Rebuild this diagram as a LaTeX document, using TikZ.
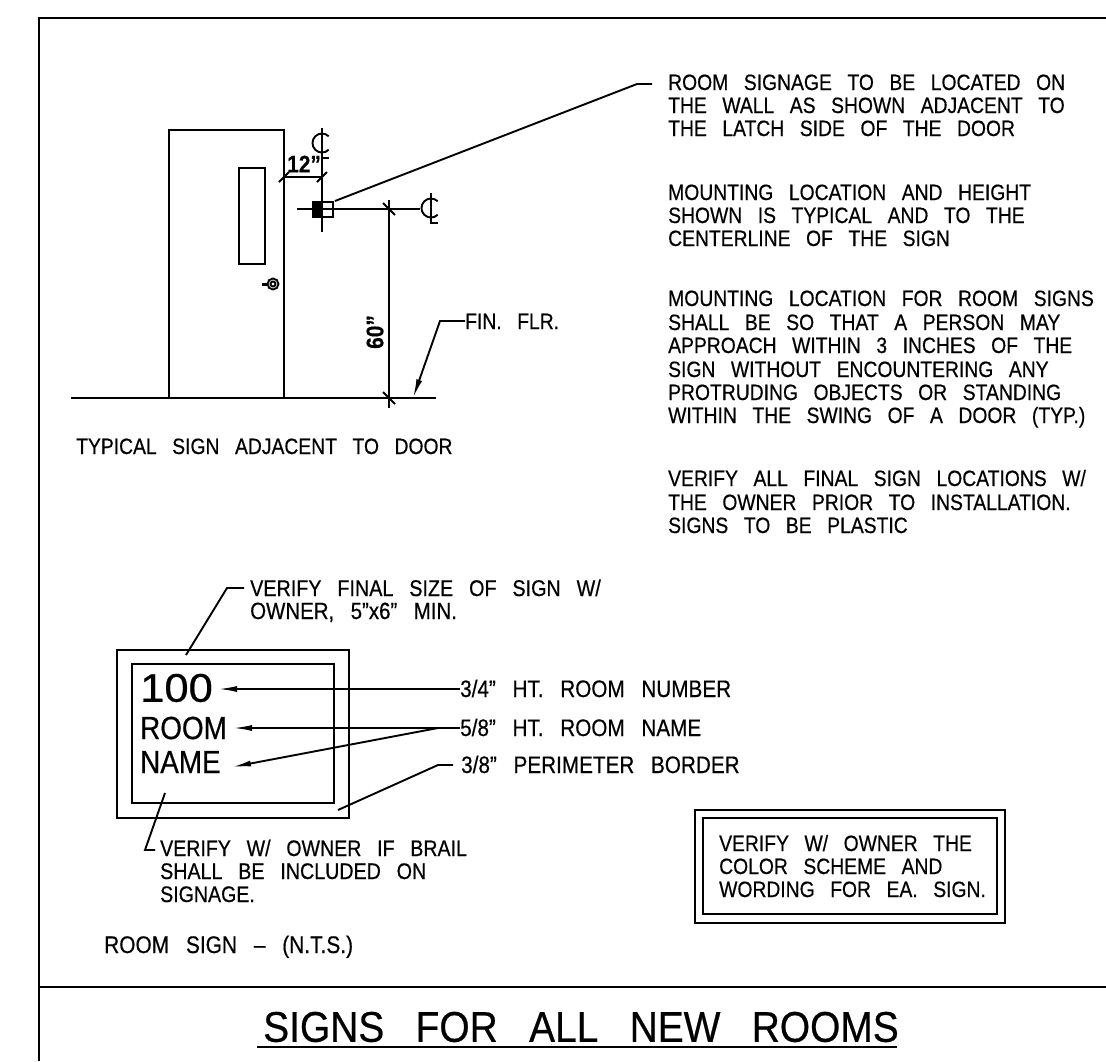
\documentclass[tikz,border=0pt]{standalone}
\usepackage{fontspec}
\setmainfont{Liberation Sans}[WordSpace=2.9,FakeStretch=0.87,FakeBold=0.5]
\usetikzlibrary{arrows.meta}
\tikzset{
	line/.style={line width=1.9pt},
	heavy/.style={line width=2.4pt},
	ptr/.style={line width=1.9pt,-{Latex[length=19pt,width=6pt]}},
	lbl/.style={anchor=west,inner sep=0pt,text height=16pt,text depth=0pt,font=\fontsize{22.2}{24}\selectfont},
	bignum/.style={anchor=west,inner sep=0pt,font=\fontsize{#1}{#1}\selectfont}
}
\begin{document}
\begin{tikzpicture}[x=1pt,y=-1pt]
	\useasboundingbox (0,0) rectangle (1106,1061);
	\draw[heavy] (1106,18) -- (39,18) -- (39,1061);
	\draw[line width=2.8pt] (39,987) -- (1106,987);
	\draw[heavy] (169,398) -- (169,130) -- (284,130) -- (284,398);
	\draw[heavy] (239,168) rectangle (265,264);
	\draw[line] (273,284) circle (2.5);
	\draw[line] (273,284) circle (5.5);
	\draw[line width=3pt] (262,284) -- (268,284);
	\draw[heavy] (71,398) -- (436,398);
	\draw[line] (322,128) -- (322,232);
	\draw[line] (297,209) -- (420,209);
	\draw[line] (284,177) -- (322,177);
	\draw[line] (389,200) -- (389,408);
	\foreach \x/\y in {284/177,322/177}{
		\draw[line] (\x-5,\y+5) -- (\x+5,\y-5);
	}
	\foreach \x/\y in {389/209,389/398}{
		\draw[line] (\x-6,\y-6) -- (\x+6,\y+6);
	}
	\foreach \x/\y in {322/143,431/208}{
		\draw[line] (\x+6.7,\y-6.7) arc[start angle=45,end angle=315,radius=9.5pt];
		\draw[line] (\x,\y-15) -- (\x,\y+15) -- (\x+7,\y+15);
	}
	\fill (313,202) rectangle (323,217);
	\draw[heavy] (313,202) rectangle (333,217);
	\node[bignum=24,font=\fontsize{24}{24}\selectfont\bfseries] (dimwide) at (287,164) {12"};
	\node[font=\fontsize{24}{24}\selectfont\bfseries,rotate=90,inner sep=0pt] (dimhigh) at (375,332) {60"};
	\coordinate (signtip) at (335,201);
	\coordinate (signbend) at (637,84);
	\coordinate (signend) at (652,84);
	\draw[line] (signtip) -- (signbend) -- (signend);
	\foreach \n/\y/\t in {a/82/ROOM SIGNAGE TO BE LOCATED ON,b/105/THE WALL AS SHOWN ADJACENT TO,c/128/THE LATCH SIDE OF THE DOOR,
		d/192/MOUNTING LOCATION AND HEIGHT,e/215/SHOWN IS TYPICAL AND TO THE,f/238/CENTERLINE OF THE SIGN,
		g/298/MOUNTING LOCATION FOR ROOM SIGNS,h/322/SHALL BE SO THAT A PERSON MAY,i/345/APPROACH WITHIN 3 INCHES OF THE,j/369/SIGN WITHOUT ENCOUNTERING ANY,k/392/PROTRUDING OBJECTS OR STANDING,l/415/WITHIN THE SWING OF A DOOR (TYP.),
		m/478/{VERIFY ALL FINAL SIGN LOCATIONS W/},n/502/THE OWNER PRIOR TO INSTALLATION.,o/525/SIGNS TO BE PLASTIC}{
		\node[lbl] (note\n) at (668,\y) {\t};
	}
	\node[lbl] (finflr) at (465,321) {FIN. FLR.};
	\coordinate (flrtip) at (413,398);
	\coordinate (flrbend) at (440,321);
	\draw[ptr] (finflr.west) -- (flrbend) -- (flrtip);
	\node[lbl] (typsign) at (76,446) {TYPICAL SIGN ADJACENT TO DOOR};
	\draw[heavy] (117,650) rectangle (349,818);
	\draw[heavy] (132,664) rectangle (334,803);
	\node[bignum=40,xscale=1.25] (num) at (140,688) {100};
	\node[bignum=32] (room) at (140,728) {ROOM};
	\node[bignum=32] (name) at (140,762) {NAME};
	\foreach \n/\x/\y/\s/\t in {p/250/588/22.7/{VERIFY FINAL SIZE OF SIGN W/},q/250/611/23.5/{OWNER, 5"x6" MIN.},
		r/460/689/23.8/{3/4" HT. ROOM NUMBER},s/460/728/23.8/{5/8" HT. ROOM NAME},t/461/765/23.8/{3/8" PERIMETER BORDER},
		u/160/848/22.5/{VERIFY W/ OWNER IF BRAIL},v/160/871/22.6/SHALL BE INCLUDED ON,w/160/894/22.5/SIGNAGE.,
		x/104/945/24/ROOM SIGN -- (N.T.S.)}{
		\node[lbl,font=\fontsize{\s}{24}\selectfont] (lbl\n) at (\x,\y) {\t};
	}
	\coordinate (sizetip) at (186,655);
	\coordinate (sizebend) at (227,588);
	\draw[line] (lblp.west) ++(-6,0) -- (sizebend) -- (sizetip);
	\draw[ptr] (lblr.west) -- (218,689);
	\draw[ptr] (lbls.west) -- (233,728);
	\coordinate (namefork) at (438,728);
	\coordinate (nametip) at (232,767);
	\draw[ptr] (namefork) -- (nametip);
	\coordinate (bordertip) at (338,810);
	\coordinate (borderbend) at (438,765);
	\draw[line] (lblt.west) ++(-8,0) -- (borderbend) -- (bordertip);
	\coordinate (brailtip) at (165,793);
	\coordinate (brailbend) at (145,850);
	\coordinate (brailend) at (155,850);
	\draw[line] (brailtip) -- (brailbend) -- (brailend);
	\draw[heavy] (695,810) rectangle (1005,923);
	\draw[heavy] (703,818) rectangle (997,914);
	\foreach \n/\y/\t in {a/843/{VERIFY W/ OWNER THE},b/866/COLOR SCHEME AND,c/889/WORDING FOR EA. SIGN.}{
		\node[lbl] (box\n) at (719,\y) {\t};
	}
	\node[bignum=43,anchor=center,xscale=1.04] (title) at (581,1027) {SIGNS FOR ALL NEW ROOMS};
	\draw[line width=2.8pt] (257,1047) -- (897,1047);
\end{tikzpicture}
\end{document}
